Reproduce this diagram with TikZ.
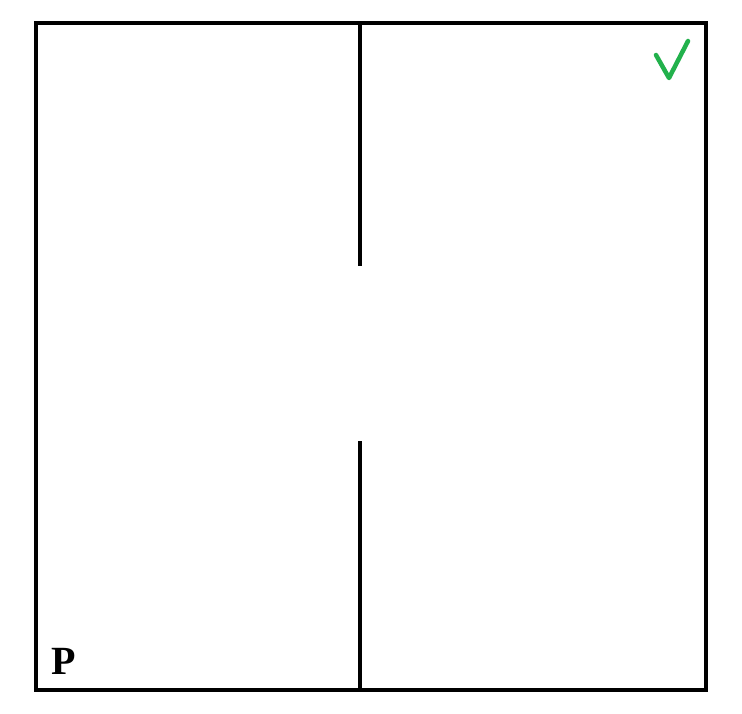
\documentclass[tikz,border=0pt]{standalone}
\usepackage{fontspec}
\setmainfont{Liberation Serif}
\definecolor{chk}{RGB}{34,177,76}
\begin{document}
\begin{tikzpicture}[x=1pt,y=-1pt,
  wall/.style={line width=4pt,black},
  lbl/.style={font=\fontsize{40}{40}\selectfont\bfseries,inner sep=0pt}]
\useasboundingbox (0,0) rectangle (742,713);
\draw[wall] (36,23) rectangle (706,690);
\coordinate (t1) at (360,23);
\coordinate (t2) at (360,266);
\coordinate (b1) at (360,441);
\coordinate (b2) at (360,690);
\draw[wall] (t1) -- (t2);
\draw[wall] (b1) -- (b2);
\node[lbl,anchor=base west] (p) at (51,674) {P};
\draw[chk,line width=4.5pt,line cap=round,line join=round] (656,55) -- (669,78) -- (688,41);
\end{tikzpicture}
\end{document}
